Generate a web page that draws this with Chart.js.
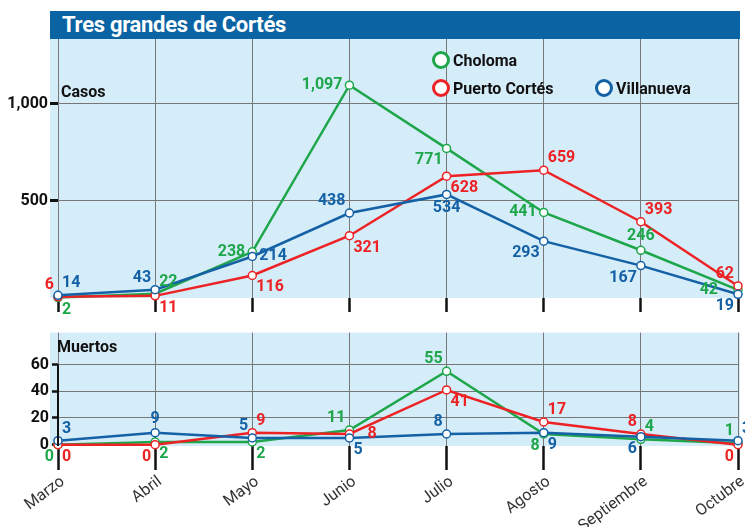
<!DOCTYPE html>
<html>
<head>
<meta charset="utf-8">
<script src="https://cdn.jsdelivr.net/npm/chart.js@4.4.0/dist/chart.umd.min.js"></script>
<style>
  body { margin:0; background:#fff; width:745px; height:527px; overflow:hidden; position:relative;
         font-family:'Roboto',sans-serif; }
  #title { position:absolute; left:50px; top:11px; width:690px; height:28px; background:#0a63a3; color:#fff;
           font-weight:bold; font-size:22px; line-height:28px; padding-left:12px; box-sizing:border-box; letter-spacing:-0.3px; }
  canvas { position:absolute; left:0; }
  #casos { top:0; }
  #muertos { top:320px; }
  .lab { position:absolute; font-weight:bold; font-size:16px; color:#111; }
  .leg { position:absolute; font-weight:bold; font-size:16px; color:#111; line-height:20px; white-space:nowrap; }
  .leg i { display:inline-block; width:12px; height:12px; border:3px solid; border-radius:50%; background:#fff;
           vertical-align:middle; margin-right:3px; margin-top:-3px; }
</style>
</head>
<body>
<div id="title">Tres grandes de Cortés</div>
<canvas id="casos" width="745" height="320"></canvas>
<canvas id="muertos" width="745" height="207"></canvas>
<div class="lab" style="left:61px;top:82px">Casos</div>
<div class="lab" style="left:57px;top:337px">Muertos</div>
<div class="leg" style="left:432px;top:51px"><i style="border-color:#1ea64a"></i>Choloma</div>
<div class="leg" style="left:432px;top:79px"><i style="border-color:#ed2224"></i>Puerto Cortés</div>
<div class="leg" style="left:595px;top:79px"><i style="border-color:#1461a6"></i>Villanueva</div>
<script>
const months = ['Marzo','Abril','Mayo','Junio','Julio','Agosto','Septiembre','Octubre'];

// casos
const cholomaCasos    = [2, 22, 238, 1097, 771, 441, 246, 42];
const puertoCasos     = [6, 11, 116, 321, 628, 659, 393, 62];
const villanuevaCasos = [14, 43, 214, 438, 534, 293, 167, 19];
const casosTicks = [500, 1000];

// muertos
const cholomaMuertos    = [0, 2, 2, 11, 55, 8, 4, 1];
const puertoMuertos     = [0, 0, 9, 8, 41, 17, 8, 0];
const villanuevaMuertos = [3, 9, 5, 5, 8, 9, 6, 3];
const muertosTicks = [0, 10, 20, 30, 40, 50, 60];

const GREEN = '#1ea64a', RED = '#ed2224', BLUE = '#1461a6';
const FONT = "'Roboto',sans-serif";

// where each value label sits around its point (L / R = further out)
const placeCasos = {
  choloma:    ['br','tr','l','l','bl','l','t','L'],
  puerto:     ['tl','br','br','br','br','tr','tr','tl'],
  villanueva: ['tr','tl','r','tl','b','bl','bl','bl']
};
const placeMuertos = {
  choloma:    ['bl','br','br','tl','tl','bl','tr','tl'],
  puerto:     ['br','bl','tr','R','br','tr','tl','bl'],
  villanueva: ['tr','t','tl','br','tl','br','bl','tr']
};

function line(label, data, color, place, order) {
  return {
    label: label, data: data, borderColor: color, borderWidth: 2.5,
    pointRadius: 4, pointBackgroundColor: '#fff', pointBorderColor: color, pointBorderWidth: 1.5,
    tension: 0, placement: place, order: order, clip: false
  };
}

const panelBg = {
  id: 'panelBg',
  beforeDraw(chart) {
    const a = chart.chartArea, ctx = chart.ctx;
    ctx.save();
    ctx.fillStyle = '#d5ecf9';
    ctx.fillRect(50, a.top, 690, a.bottom - a.top);
    ctx.restore();
  }
};

const dataLabels = {
  id: 'dataLabels',
  afterDatasetsDraw(chart) {
    const ctx = chart.ctx;
    ctx.save();
    ctx.font = 'bold 16px ' + FONT;
    ctx.textBaseline = 'middle';
    chart.data.datasets.forEach((ds, i) => {
      const meta = chart.getDatasetMeta(i);
      ctx.fillStyle = ds.borderColor;
      meta.data.forEach((pt, j) => {
        const code = ds.placement[j];
        let x = pt.x, y = pt.y, align = 'center';
        const diag = code.length === 2;
        if (code === 'L') { x -= 20; align = 'right'; }
        if (code === 'R') { x += 18; align = 'left'; }
        if (code.includes('l')) { x -= diag ? 4 : 7; align = 'right'; }
        if (code.includes('r')) { x += diag ? 4 : 7; align = 'left'; }
        if (code.includes('t')) y -= diag ? 12 : 14;
        if (code.includes('b')) y += diag ? 12 : 14;
        ctx.textAlign = align;
        ctx.fillText(ds.data[j].toLocaleString('en-US'), x, y);
      });
    });
    ctx.restore();
  }
};

// y axis rule in the muertos panel and the slanted month names
const muertosExtras = {
  id: 'muertosExtras',
  afterDraw(chart) {
    const y = chart.scales.y, x = chart.scales.x, a = chart.chartArea, ctx = chart.ctx;
    ctx.save();
    ctx.strokeStyle = '#111';
    ctx.lineWidth = 2;
    ctx.beginPath();
    ctx.moveTo(a.left, y.getPixelForValue(60));
    ctx.lineTo(a.left, a.bottom);
    ctx.stroke();
    ctx.fillStyle = '#333';
    ctx.font = '16px ' + FONT;
    ctx.textAlign = 'right';
    ctx.textBaseline = 'middle';
    months.forEach((m, i) => {
      ctx.save();
      ctx.translate(x.getPixelForTick(i) + 5, a.bottom + 34);
      ctx.rotate(-0.64);
      ctx.fillText(m, 0, 0);
      ctx.restore();
    });
    ctx.restore();
  }
};

new Chart(document.getElementById('casos'), {
  type: 'line',
  data: {
    labels: months,
    datasets: [
      line('Choloma', cholomaCasos, GREEN, placeCasos.choloma, 2),
      line('Puerto Cortés', puertoCasos, RED, placeCasos.puerto, 1),
      line('Villanueva', villanuevaCasos, BLUE, placeCasos.villanueva, 0)
    ]
  },
  options: {
    responsive: false,
    animation: false,
    layout: { padding: { top: 39, right: 7, left: 0, bottom: 0 } },
    plugins: { legend: { display: false }, tooltip: { enabled: false } },
    scales: {
      x: {
        offset: false,
        ticks: { display: false },
        grid: { color: '#777', lineWidth: 1, tickLength: 14, tickColor: '#111', tickWidth: 2.5 },
        border: { display: false },
        afterFit(s) { s.height = 22; }
      },
      y: {
        min: 0, max: 1335,
        afterBuildTicks(s) { s.ticks = casosTicks.map(v => ({ value: v })); },
        ticks: {
          color: '#111', padding: 2,
          font: { family: FONT, size: 16, weight: 'bold' },
          callback: v => v.toLocaleString('en-US')
        },
        grid: { color: '#777', lineWidth: 1, tickLength: 8, tickColor: '#111', tickWidth: 3 },
        border: { display: false },
        afterFit(s) { s.width = 58; }
      }
    }
  },
  plugins: [panelBg, dataLabels]
});

new Chart(document.getElementById('muertos'), {
  type: 'line',
  data: {
    labels: months,
    datasets: [
      line('Choloma', cholomaMuertos, GREEN, placeMuertos.choloma, 2),
      line('Puerto Cortés', puertoMuertos, RED, placeMuertos.puerto, 1),
      line('Villanueva', villanuevaMuertos, BLUE, placeMuertos.villanueva, 0)
    ]
  },
  options: {
    responsive: false,
    animation: false,
    layout: { padding: { top: 8, right: 7, left: 0, bottom: 0 } },
    plugins: { legend: { display: false }, tooltip: { enabled: false } },
    scales: {
      x: {
        offset: false,
        ticks: { display: false },
        grid: { color: '#777', lineWidth: 1, tickLength: 24, tickColor: '#111', tickWidth: 2.5 },
        border: { display: false },
        afterFit(s) { s.height = 81; }
      },
      y: {
        min: -1, max: 84,
        afterBuildTicks(s) { s.ticks = muertosTicks.map(v => ({ value: v })); },
        ticks: {
          color: '#111', padding: 3,
          font: { family: FONT, size: 16, weight: 'bold' },
          callback: v => (v % 20 === 0 ? v : '')
        },
        grid: {
          color: c => (c.tick && c.tick.value % 20 === 0 && c.tick.value > 0 ? '#777' : 'rgba(0,0,0,0)'),
          lineWidth: 1, tickLength: 6, tickColor: '#111', tickWidth: 2.5
        },
        border: { display: false },
        afterFit(s) { s.width = 58; }
      }
    }
  },
  plugins: [panelBg, dataLabels, muertosExtras]
});
</script>
</body>
</html>
